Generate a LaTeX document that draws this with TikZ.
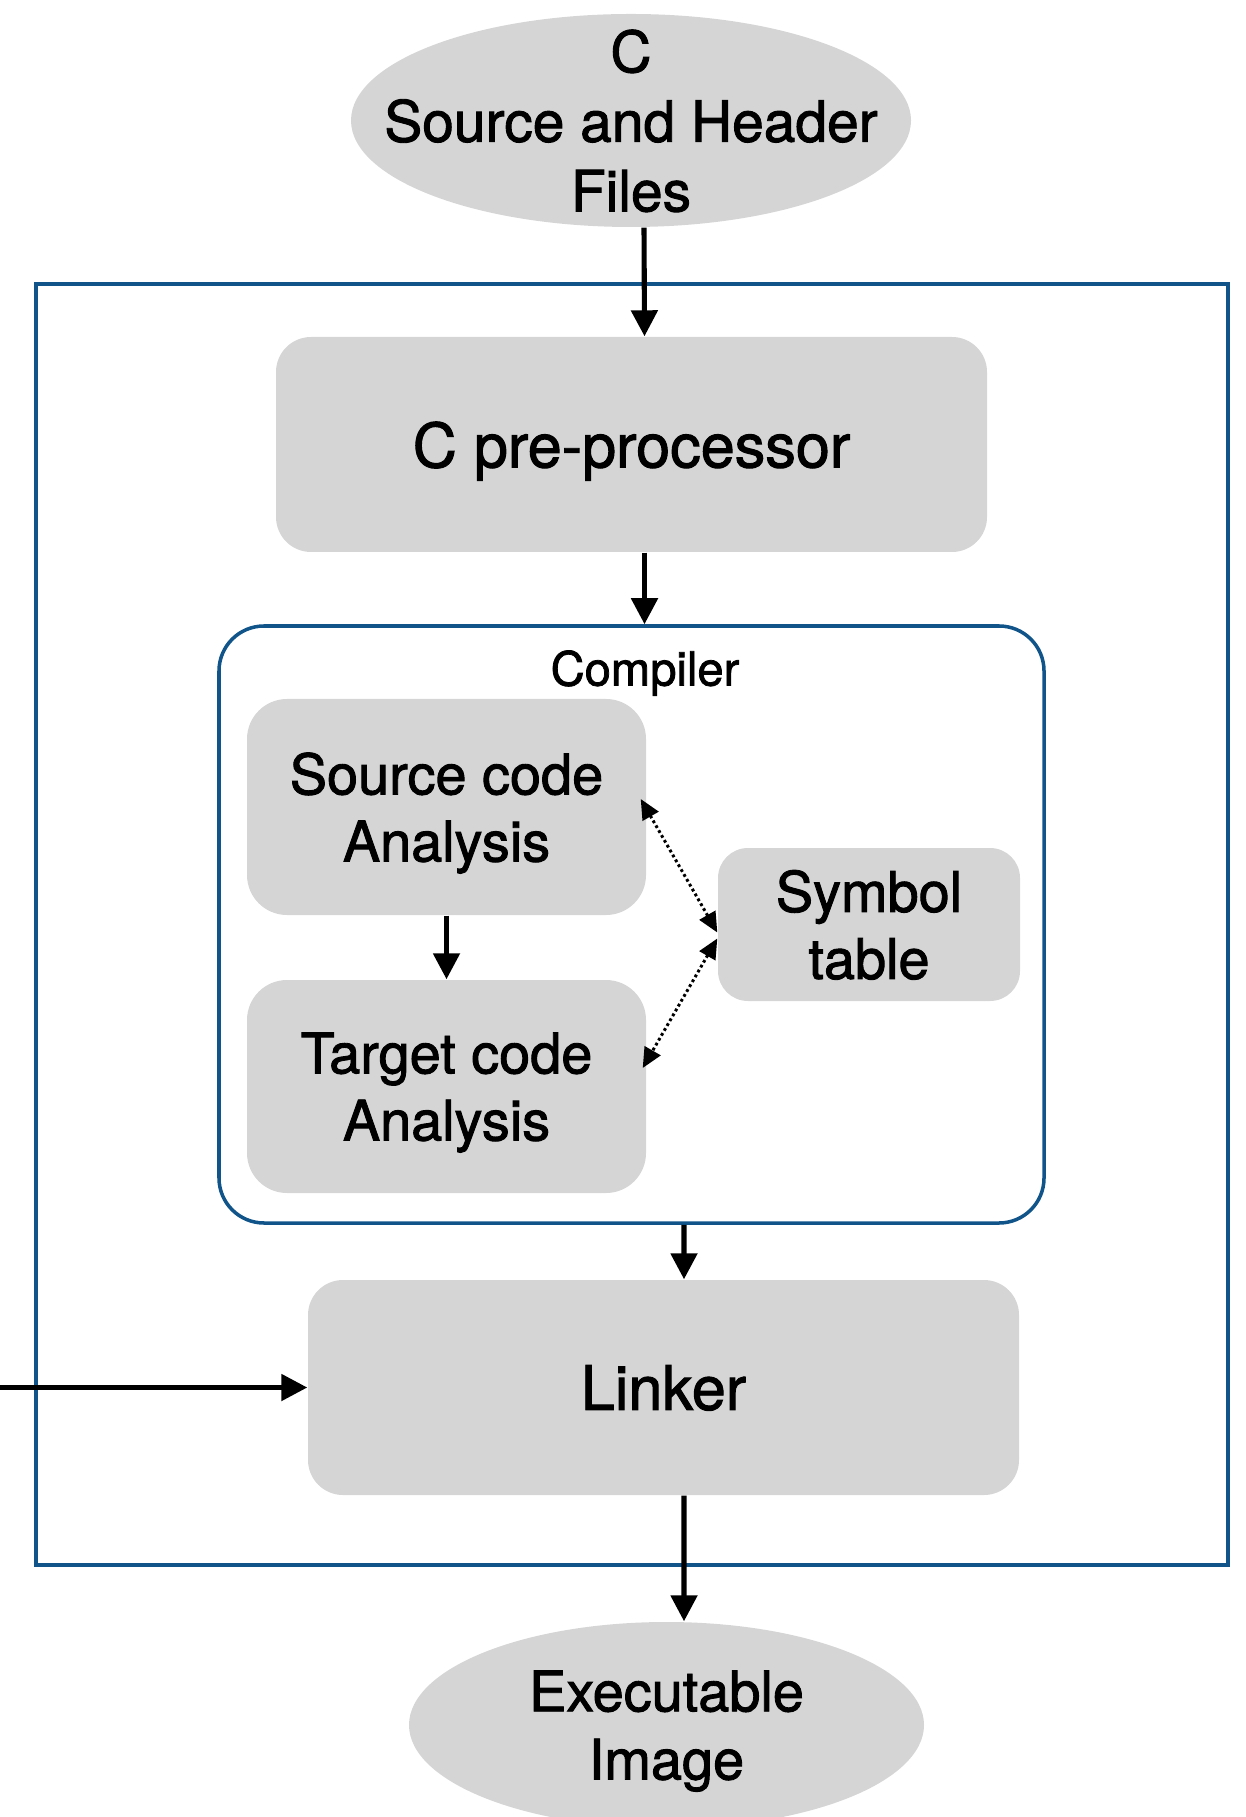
\documentclass[tikz,border=0pt]{standalone}
\usepackage{fontspec}
\setmainfont{TeX Gyre Heros}[FakeBold=1.6]
\usetikzlibrary{shapes.geometric,arrows.meta}
\definecolor{frameblue}{RGB}{16,84,138}
\definecolor{boxgray}{RGB}{213,213,213}
\begin{document}
\begin{tikzpicture}[
	box/.style={fill=boxgray, rounded corners=4mm, align=center, inner sep=0pt, text depth=0pt, font=\fontsize{15.9}{19.1}\selectfont},
	bigbox/.style={box, rounded corners=3.5mm, font=\fontsize{17.4}{20}\selectfont},
	oval/.style={ellipse, fill=boxgray, inner sep=0pt},
	ovaltext/.style={align=center, inner sep=0pt, text depth=0pt, font=\fontsize{16.2}{19.8}\selectfont},
	arr/.style={line width=1.45pt, -{Triangle[length=2.6mm,width=2.6mm]}},
	dotarr/.style={line width=0.85pt, dash pattern=on 0.8pt off 0.8pt, {Triangle[length=2mm,width=1.8mm]}-{Triangle[length=2mm,width=1.8mm]}}
	]
	\useasboundingbox (0,0) rectangle (12.45,-18.17);
	\draw[frameblue, line width=1pt] (0.36,-2.84) rectangle (12.28,-15.65); % outer frame
	% input file
	\node[oval, minimum width=5.6cm, minimum height=2.13cm] (src) at (6.31,-1.205) {};
	\node[ovaltext] (srctxt) at (src) {C\\Source and Header\\Files};
	% pre-processor
	\node[bigbox, minimum width=7.11cm, minimum height=2.15cm] (pre) at (6.315,-4.445) {C pre-processor};
	% compiler
	\node[draw=frameblue, line width=1pt, rounded corners=4.5mm, minimum width=8.25cm, minimum height=5.97cm] (comp) at (6.315,-9.245) {};
	\node[font=\fontsize{13.4}{16}\selectfont, inner sep=0pt, text depth=0pt] (complbl) at (6.45,-6.68) {Compiler};
	\node[box, minimum width=3.99cm, minimum height=2.16cm] (sca) at (4.465,-8.07) {Source code\\Analysis};
	\node[box, minimum width=3.99cm, minimum height=2.13cm] (tca) at (4.465,-10.865) {Target code\\Analysis};
	\node[box, rounded corners=3mm, minimum width=3.02cm, minimum height=1.53cm] (sym) at (8.69,-9.245) {Symbol\\table};
	% linker
	\node[bigbox, minimum width=7.11cm, minimum height=2.15cm] (link) at (6.635,-13.875) {Linker};
	\coordinate (libs) at (0,-13.875);
	% output
	\node[oval, minimum width=5.15cm, minimum height=2.06cm] (exe) at (6.665,-17.25) {};
	\node[ovaltext, font=\fontsize{15.9}{19.4}\selectfont] (exetxt) at (exe) {Executable\\Image};
	% arrows
	\draw[arr] ([xshift=1.3mm]src.south) -- ([xshift=1.3mm]pre.north);
	\draw[arr] ([xshift=1.3mm]pre.south) -- ([xshift=1.3mm]comp.north);
	\draw[arr] (sca) -- (tca);
	\draw[dotarr] ([xshift=-0.6mm,yshift=0.8mm]sca.east) -- ([yshift=-0.8mm]sym.west);
	\draw[dotarr] ([yshift=-1.4mm]sym.west) -- ([xshift=-0.4mm,yshift=1.85mm]tca.east);
	\draw[arr] ([xshift=5.25mm]comp.south) -- ([xshift=2.05mm]link.north);
	\draw[arr] (libs) -- (link.west);
	\draw[arr] ([xshift=2.05mm]link.south) -- ([xshift=1.75mm]exe.north);
\end{tikzpicture}
\end{document}
